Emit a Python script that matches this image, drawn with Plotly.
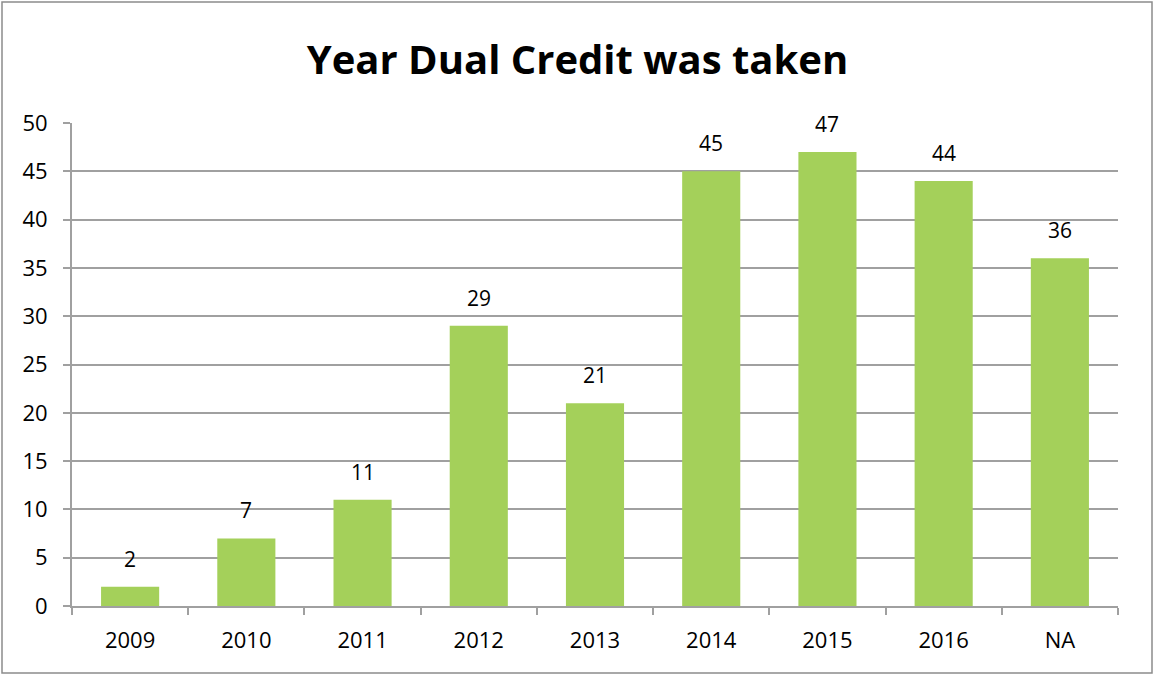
import plotly.graph_objects as go

# Chart data
years = ['2009', '2010', '2011', '2012', '2013', '2014', '2015', '2016', 'NA']
counts = [2, 7, 11, 29, 21, 45, 47, 44, 36]
y_ticks = [0, 5, 10, 15, 20, 25, 30, 35, 40, 45, 50]

BAR_COLOR = '#a4d05a'
GRID_COLOR = '#a0a0a0'
FONT = 'Open Sans, Noto Sans, sans-serif'

W, H = 1155, 677
M = dict(l=72, r=37, t=123, b=71)
pw = W - M['l'] - M['r']
ph = H - M['t'] - M['b']

fig = go.Figure()
fig.add_trace(go.Bar(
    x=years,
    y=counts,
    marker=dict(color=BAR_COLOR, line=dict(width=0)),
    width=0.5,
    hoverinfo='x+y',
))

# value labels above the bars (x given as category index)
for i, c in enumerate(counts):
    fig.add_annotation(
        x=i, y=c, text=str(c),
        showarrow=False, yanchor='middle', yshift=28,
        font=dict(size=21, color='black', family=FONT),
    )

fig.update_layout(
    width=W, height=H,
    margin=M,
    plot_bgcolor='white',
    paper_bgcolor='white',
    showlegend=False,
    font=dict(family=FONT, color='black'),
    title=dict(
        text='<b>Year Dual Credit was taken</b>',
        x=0.5, xanchor='center',
        y=1 - 60 / H, yanchor='middle',
        font=dict(size=40, family=FONT, color='black'),
    ),
    xaxis=dict(
        type='category',
        range=[-0.5, len(years) - 0.5],
        showgrid=False,
        showline=True, linecolor=GRID_COLOR, linewidth=2,
        ticks='outside', tickson='boundaries', ticklen=7,
        tickcolor=GRID_COLOR, tickwidth=2,
        tickfont=dict(size=22),
        ticklabelstandoff=14,
    ),
    yaxis=dict(
        range=[0, 50],
        tickvals=y_ticks,
        showgrid=True, gridcolor=GRID_COLOR, gridwidth=2,
        showline=True, linecolor=GRID_COLOR, linewidth=2,
        ticks='outside', ticklen=7, tickcolor=GRID_COLOR, tickwidth=2,
        tickfont=dict(size=22),
        ticklabelstandoff=11,
        zeroline=False,
    ),
    shapes=[dict(
        type='rect', xref='paper', yref='paper',
        x0=-(M['l'] - 2) / pw, x1=1 + (M['r'] - 3) / pw,
        y0=-(M['b'] - 4) / ph, y1=1 + (M['t'] - 2) / ph,
        line=dict(color='#8c8c8c', width=1.5),
        fillcolor='rgba(0,0,0,0)',
    )],
)

# the page body has a default 8px margin; drop it so the figure sits at 0,0
fig.write_html('out.html', config={'displayModeBar': False},
               post_script="document.body.style.margin='0';")
